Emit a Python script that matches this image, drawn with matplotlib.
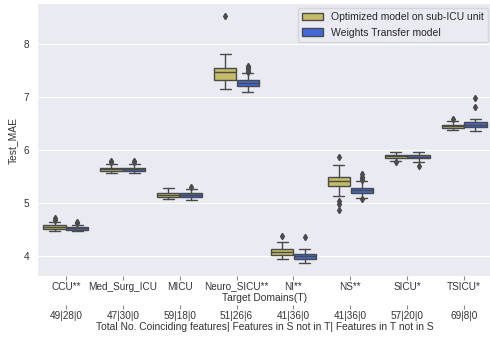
import matplotlib.pyplot as plt
import seaborn as sns

sns.set_style("darkgrid")
plt.rcParams['font.family'] = ['Liberation Sans', 'DejaVu Sans']

domains = ['CCU**', 'Med_Surg_ICU', 'MICU', 'Neuro_SICU**', 'NI**', 'NS**', 'SICU*', 'TSICU*']
feature_counts = ['49|28|0', '47|30|0', '59|18|0', '51|26|6', '41|36|0', '41|36|0', '57|20|0', '69|8|0']
series = ['Optimized model on sub-ICU unit', 'Weights Transfer model']
colors = ['#c4bc66', '#4068dc']

# per-domain box summaries: (whislo, q1, med, q3, whishi, fliers)
optimized = [
    (4.47, 4.51, 4.54, 4.58, 4.64, [4.68, 4.71]),
    (5.56, 5.60, 5.64, 5.67, 5.74, [5.77, 5.80]),
    (5.08, 5.12, 5.16, 5.19, 5.28, []),
    (7.16, 7.33, 7.47, 7.55, 7.82, [8.53]),
    (3.94, 4.02, 4.08, 4.14, 4.26, [4.38]),
    (5.14, 5.32, 5.41, 5.50, 5.71, [5.87, 5.03, 4.98, 4.86]),
    (5.79, 5.84, 5.88, 5.91, 5.97, [5.77]),
    (6.37, 6.42, 6.45, 6.48, 6.54, [6.58]),
]
transfer = [
    (4.47, 4.49, 4.52, 4.55, 4.59, [4.62, 4.64]),
    (5.57, 5.61, 5.64, 5.67, 5.74, [5.77, 5.79]),
    (5.05, 5.12, 5.15, 5.19, 5.26, [5.31]),
    (7.09, 7.21, 7.27, 7.32, 7.46, [7.48, 7.50, 7.52, 7.54, 7.56, 7.59]),
    (3.86, 3.95, 4.00, 4.03, 4.13, [4.35]),
    (5.10, 5.19, 5.24, 5.29, 5.41, [5.44, 5.47, 5.50, 5.54, 5.07]),
    (5.78, 5.84, 5.87, 5.91, 5.97, [5.70]),
    (6.35, 6.43, 6.48, 6.52, 6.59, [6.82, 6.98]),
]


def to_stats(rows):
    return [dict(whislo=r[0], q1=r[1], med=r[2], q3=r[3], whishi=r[4], fliers=r[5]) for r in rows]


fig = plt.figure(figsize=(4.9, 3.39), dpi=100)
ax = fig.add_axes([37.5 / 490, 63 / 339, 455 / 490, 272 / 339])

line_c = '#4a4a4a'
for k, (rows, col) in enumerate(zip([optimized, transfer], colors)):
    pos = [i - 0.2 + 0.4 * k for i in range(len(domains))]
    ax.bxp(to_stats(rows), positions=pos, widths=0.39, patch_artist=True,
           boxprops=dict(facecolor=col, edgecolor=line_c, linewidth=1.0),
           medianprops=dict(color=line_c, linewidth=1.0),
           whiskerprops=dict(color=line_c, linewidth=1.0),
           capprops=dict(color=line_c, linewidth=1.0),
           flierprops=dict(marker='d', markerfacecolor=line_c, markeredgecolor=line_c,
                           markersize=3.2, linestyle='none'),
           manage_ticks=False)
    ax.bar([0], [0], color=col, edgecolor=line_c, label=series[k])

ax.set_xlim(-0.5, 7.5)
ax.set_ylim(3.623, 8.755)
ax.set_yticks([4, 5, 6, 7, 8])
ax.set_xticks(range(len(domains)))
ax.set_xticklabels(domains)
ax.grid(axis='x', visible=False)
ax.tick_params(axis='x', length=3, width=0.8, color='#888888', pad=1, labelsize=7.2, labelcolor='#333333')
ax.tick_params(axis='y', labelsize=7.2, labelcolor='#333333', pad=2.5)
ax.set_xlabel('Target Domains(T)', fontsize=7.4, color='#333333', labelpad=1)
ax.set_ylabel('Test_MAE', fontsize=7.4, color='#333333', labelpad=4)
for s in ax.spines.values():
    s.set_visible(False)

leg = ax.legend(loc='upper right', fontsize=7.5, frameon=True, borderaxespad=0.4,
                handlelength=2.0, handleheight=0.7)
leg.get_frame().set_facecolor('#eaeaf2')
leg.get_frame().set_edgecolor('#d0d0d8')

# second row of category labels with the feature counts
ax2 = ax.twiny()
ax2.set_xlim(ax.get_xlim())
ax2.xaxis.set_ticks_position('bottom')
ax2.xaxis.set_label_position('bottom')
ax2.spines['bottom'].set_position(('outward', 21.0))
for s in ax2.spines.values():
    s.set_visible(False)
ax2.grid(False)
ax2.patch.set_visible(False)
ax2.set_xticks(range(len(feature_counts)))
ax2.set_xticklabels(feature_counts)
ax2.tick_params(axis='x', length=3, width=0.8, color='#888888', pad=1, labelsize=7.2, labelcolor='#333333')
ax2.set_xlabel('Total No. Coinciding features| Features in S not in T| Features in T not in S',
               fontsize=7.4, color='#333333', labelpad=1)

fig.savefig('out.png', dpi=100)
